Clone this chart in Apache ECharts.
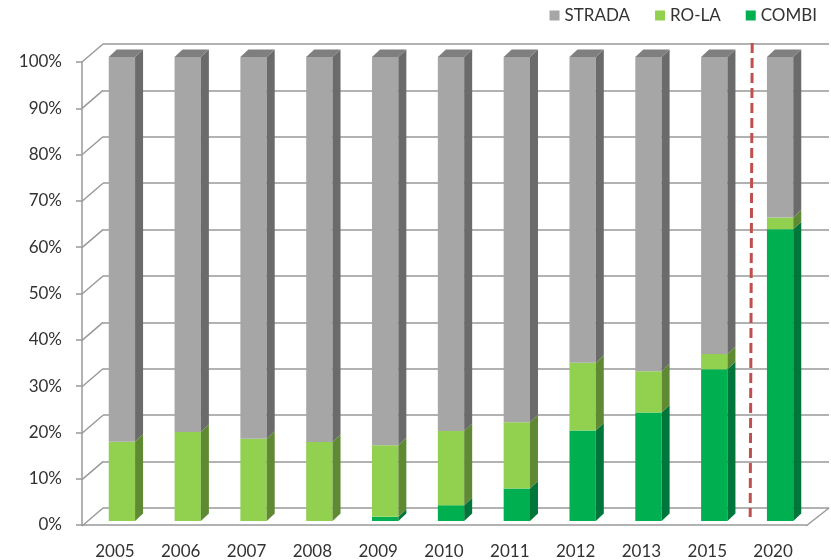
<!DOCTYPE html>
<html><head><meta charset="utf-8">
<script src="https://cdn.jsdelivr.net/npm/echarts@6/dist/echarts.min.js"></script>
<style>html,body{margin:0;padding:0;background:#fff}#c{width:831px;height:560px}</style>
</head><body><div id="c"></div>
<script>
const categories = ['2005','2006','2007','2008','2009','2010','2011','2012','2013','2015','2020'];
const combi  = [0, 0, 0, 0, 0.9, 3.4, 7.0, 19.5, 23.4, 32.7, 62.9];
const rola   = [17.1, 19.2, 17.7, 17.0, 15.4, 16.0, 14.3, 14.6, 8.9, 3.3, 2.5];
const strada = [82.9, 80.8, 82.3, 83.0, 83.7, 80.6, 78.7, 65.9, 67.7, 64.0, 34.6];
const yTicks = [0, 10, 20, 30, 40, 50, 60, 70, 80, 90, 100];
const dividerAfter = '2015';

const FONT = 'Lato';
const TXT = '#333';
const DX = 8, DY = 7.5;          // bar depth
const WX = 21, WY = 18;          // wall depth

const segs = [
  {name: 'COMBI',  values: combi,  front: '#00B050', side: '#00763A', top: '#009544'},
  {name: 'RO-LA',  values: rola,   front: '#92D050', side: '#5F8A33', top: '#7AB040'},
  {name: 'STRADA', values: strada, front: '#A6A6A6', side: '#6B6B6B', top: '#7F7F7F'}
];

function stackData(k) {
  return categories.map((c, i) => {
    let base = 0;
    for (let j = 0; j < k; j++) base += segs[j].values[i];
    return [i, base, base + segs[k].values[i], k === segs.length - 1 ? 1 : 0];
  });
}

function renderBar(seg) {
  return function (params, api) {
    const i = api.value(0), s = api.value(1), e = api.value(2), isTop = api.value(3);
    if (e - s <= 0) return;
    const p0 = api.coord([i, s]), p1 = api.coord([i, e]);
    const w = api.size([1, 0])[0] * 0.4;
    const x0 = p0[0] - w / 2, x1 = p0[0] + w / 2;
    const yb = p0[1], yt = p1[1];
    const children = [
      {type: 'rect', shape: {x: x0, y: yt, width: w, height: yb - yt}, style: {fill: seg.front}},
      {type: 'polygon', shape: {points: [[x1, yb], [x1, yt], [x1 + DX, yt - DY], [x1 + DX, yb - DY]]}, style: {fill: seg.side}}
    ];
    if (isTop) children.push({type: 'polygon', shape: {points: [[x0, yt], [x1, yt], [x1 + DX, yt - DY], [x0 + DX, yt - DY]]}, style: {fill: seg.top}});
    return {type: 'group', children};
  };
}

const barSeries = segs.map((seg, k) => ({
  type: 'custom', name: seg.name, xAxisIndex: 1, yAxisIndex: 1,
  itemStyle: {color: seg.front},
  renderItem: renderBar(seg),
  encode: {x: 0, y: [1, 2]},
  data: stackData(k), z: 5
}));

const chart = echarts.init(document.getElementById('c'), null, {renderer: 'canvas'});
chart.setOption({
  animation: false,
  backgroundColor: '#fff',
  legend: {
    data: ['STRADA', 'RO-LA', 'COMBI'],
    right: 14, top: 7, padding: 0, icon: 'rect', itemWidth: 10, itemHeight: 10, itemGap: 25,
    textStyle: {fontFamily: FONT, fontSize: 17, color: TXT}
  },
  grid: [
    {left: 82, right: 25, top: 62, bottom: 34},
    {left: 89, right: 18, top: 57, bottom: 39},
    {left: 103, right: 2, top: 44, bottom: 52}
  ],
  xAxis: [
    {type: 'category', gridIndex: 0, data: categories,
     axisLine: {lineStyle: {color: '#999', width: 1.5}},
     axisTick: {length: 6, lineStyle: {color: '#999', width: 1.5}},
     axisLabel: {fontFamily: FONT, fontSize: 17, color: TXT, margin: 18}},
    {type: 'category', gridIndex: 1, data: categories, show: false},
    {type: 'value', gridIndex: 2, min: 0, max: 1, show: false}
  ],
  yAxis: [
    {type: 'value', gridIndex: 0, min: 0, max: 100, interval: 10,
     axisLine: {show: true, lineStyle: {color: '#999', width: 1.5}},
     axisTick: {show: true, length: 6, lineStyle: {color: '#999', width: 1.5}},
     splitLine: {show: false},
     axisLabel: {fontFamily: FONT, fontSize: 17, color: TXT, margin: 20, formatter: '{value}%'}},
    {type: 'value', gridIndex: 1, min: 0, max: 100, interval: 10, show: false},
    {type: 'value', gridIndex: 2, min: 0, max: 100, interval: 10,
     axisLine: {show: false}, axisTick: {show: false}, axisLabel: {show: false},
     splitLine: {show: true, lineStyle: {color: '#999', width: 1.5}}}
  ],
  series: [
    {type: 'custom', xAxisIndex: 2, yAxisIndex: 2, silent: true, z: 1,
     encode: {x: 0, y: 1},
     data: yTicks.map(v => [0, v]).concat([[1, 0]]),
     renderItem: function (params, api) {
       const p = api.coord([api.value(0), api.value(1)]);
       const wx = api.value(0) === 1 ? WX + 2 : WX;
       return {type: 'line', shape: {x1: p[0] - wx, y1: p[1] + WY, x2: p[0], y2: p[1]},
               style: {stroke: '#999', lineWidth: 1.5}};
     }},
    ...barSeries,
    {type: 'custom', xAxisIndex: 1, yAxisIndex: 1, silent: true, z: 6,
     encode: {x: 0, y: 1},
     data: [[categories.indexOf(dividerAfter), 0]],
     renderItem: function (params, api) {
       const i = api.value(0);
       const p0 = api.coord([i, 0]), p1 = api.coord([i, 100]);
       const band = api.size([1, 0])[0];
       const x = p0[0] + band / 2 + 4;
       return {type: 'line', shape: {x1: x + 1, y1: p1[1] - 14, x2: x - 1, y2: p0[1] - 4},
               style: {stroke: '#C0504D', lineWidth: 3, lineDash: [10, 5]}};
     }}
  ]
});
</script></body></html>
